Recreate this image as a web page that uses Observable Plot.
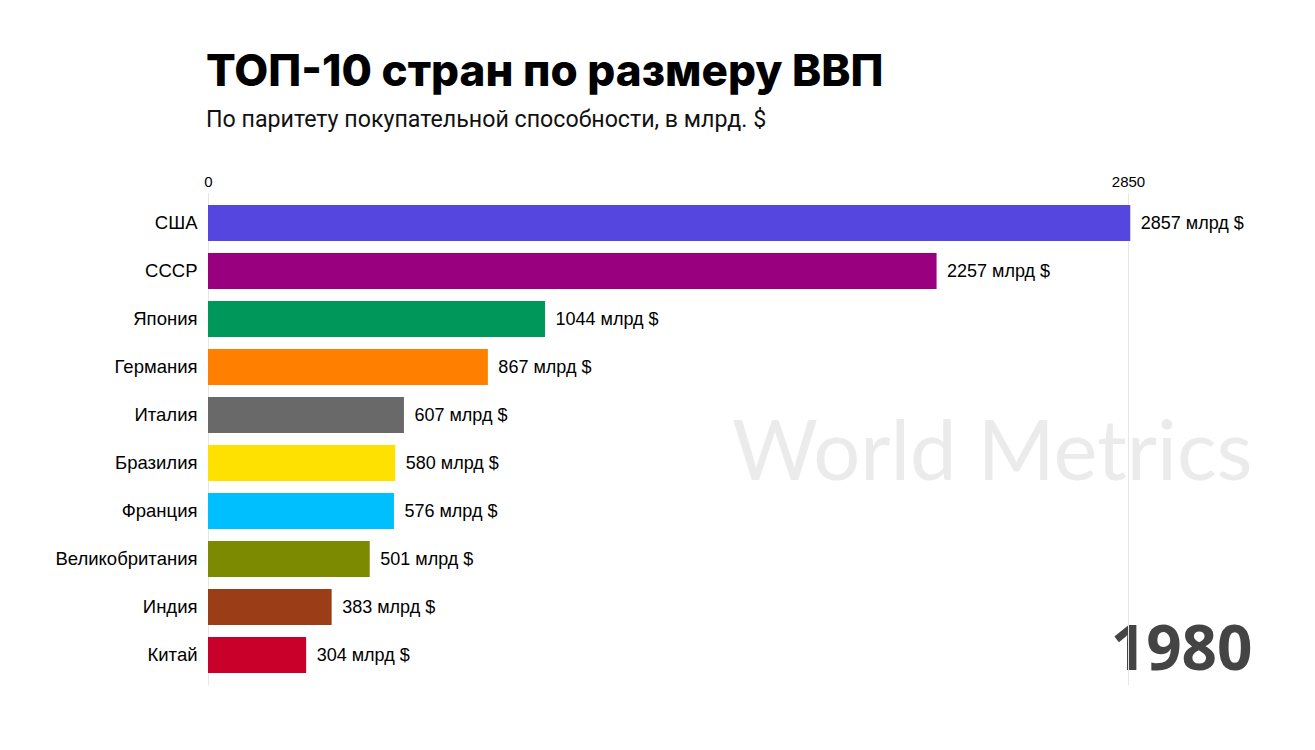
<!DOCTYPE html>
<html>
<head>
<meta charset="utf-8">
<script src="https://cdn.jsdelivr.net/npm/d3@7"></script>
<script src="https://cdn.jsdelivr.net/npm/@observablehq/plot@0.6"></script>
<style>
  html, body { margin: 0; padding: 0; background: #fff; }
  #wrap { position: relative; width: 1315px; height: 750px; overflow: hidden; }
  #header { height: 150px; position: relative; }
  #title { position: absolute; left: 206px; top: 43px; font-family: Inter, "Open Sans", sans-serif; font-weight: 800; font-size: 44px; color: #000; white-space: nowrap; letter-spacing: 0px; }
  #subtitle { position: absolute; left: 206px; top: 105px; font-family: Roboto, "Liberation Sans", sans-serif; font-weight: 400; font-size: 23.2px; color: #111; white-space: nowrap; }
</style>
</head>
<body>
<div id="wrap">
  <div id="header">
    <div id="title">ТОП-10 стран по размеру ВВП</div>
    <div id="subtitle">По паритету покупательной способности, в млрд. $</div>
  </div>
  <div id="chart"></div>
</div>
<script>
const countries = ["США", "СССР", "Япония", "Германия", "Италия", "Бразилия", "Франция", "Великобритания", "Индия", "Китай"];
const gdp = [2857, 2257, 1044, 867, 607, 580, 576, 501, 383, 304];
const colors = ["#5546e0", "#98007f", "#00975a", "#ff8000", "#696969", "#ffe100", "#00bfff", "#7b8a00", "#9b3d16", "#c9002a"];
const xTicks = [0, 2850];
const unit = " млрд $";
const year = "1980";
const watermark = "World Metrics";

const data = countries.map((c, i) => ({country: c, value: gdp[i], color: colors[i]}));

const chart = Plot.plot({
  width: 1315,
  height: 600,
  marginLeft: 208,
  marginRight: 187,
  marginTop: 43,
  marginBottom: 65,
  style: {fontFamily: "'Liberation Sans', Arial, sans-serif", background: "transparent"},
  x: {domain: [0, 2850], axis: null},
  y: {domain: countries, padding: 0.25, axis: null},
  marks: [
    Plot.text([watermark], {frameAnchor: "right", text: d => d, textAnchor: "end", lineAnchor: "bottom", dx: 124, dy: 40, fontSize: 83, fill: "#ebebeb", fontFamily: "Lato, 'Open Sans', sans-serif"}),
    Plot.text([year], {frameAnchor: "bottom-right", text: d => d, textAnchor: "end", lineAnchor: "bottom", dx: 124, dy: -16, fontSize: 62, fontWeight: 700, fill: "#444", fontFamily: "'Open Sans', sans-serif"}),
    Plot.ruleX(xTicks, {stroke: "#e6e6e6", strokeWidth: 1}),
    Plot.barX(data, {x: "value", y: "country", fill: "color"}),
    Plot.text(data, {x: "value", y: "country", text: d => d.value + unit, textAnchor: "start", dx: 10, fontSize: 18, fill: "#000"}),
    Plot.axisX({anchor: "top", ticks: xTicks, tickSize: 0, tickPadding: 7, tickFormat: d => String(d), fontSize: 15, fill: "#000", label: null}),
    Plot.axisY({tickSize: 0, tickPadding: 11, fontSize: 18.5, fill: "#000", label: null})
  ]
});
document.getElementById("chart").appendChild(chart);
</script>
</body>
</html>
